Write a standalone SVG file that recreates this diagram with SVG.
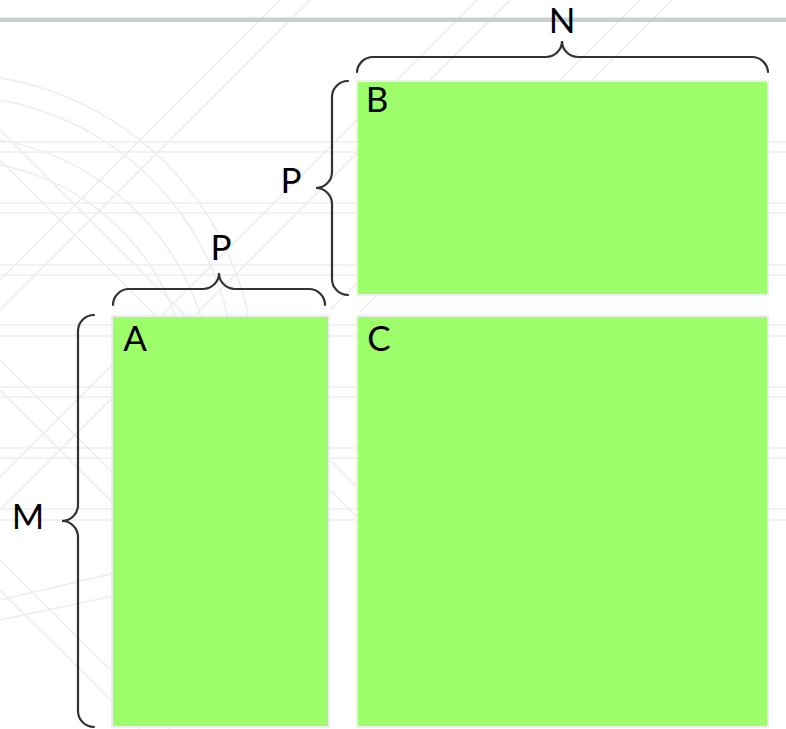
<svg xmlns="http://www.w3.org/2000/svg" width="786" height="729" viewBox="0 0 786 729">
  <style>
    .wm { fill: none; stroke: #eeeeee; stroke-width: 1.6; }
    .mat { fill: #9dfd6b; stroke: #eeeeee; stroke-width: 2; }
    .brace { fill: none; stroke: #333333; stroke-width: 2.2; stroke-linecap: round; }
    .lbl { font-family: Lato, "Open Sans", "Liberation Sans", sans-serif; font-size: 35px; fill: #000000; text-anchor: middle; }
  </style>
  <rect x="0" y="0" width="786" height="729" fill="#ffffff"/>

  <!-- faint background watermark -->
  <g id="watermark">
    <path class="wm" d="M0,142H786M0,152H786M0,203H786M0,213H786M0,265H786M0,275H786M0,325H786M0,336H786M0,387H786M0,397H786M0,448H786M0,458H786M0,509H786M0,520H786"/>
    <path class="wm" d="M280,0L0,280M310,0L0,310M477,0L0,477M510,0L0,510M640,0L330,310M672,0L360,312"/>
    <path class="wm" d="M0,130L360,490M0,160L360,520M0,360L330,690M0,390L320,710M0,560L170,729M0,590L140,729"/>
    <path class="wm" d="M0,78A305,305 0 0 1 255,380M0,100A285,285 0 0 1 235,380M0,140A260,260 0 0 1 205,330M0,165A235,235 0 0 1 180,330"/>
    <path class="wm" d="M0,600L170,560L190,520M0,620L190,580"/>
  </g>

  <!-- top rule -->
  <rect x="0" y="17.5" width="786" height="4.5" fill="#c9cfce"/>

  <!-- matrices -->
  <g id="matB">
    <rect class="mat" x="357" y="81" width="411" height="214"/>
    <text class="lbl" x="377" y="112">B</text>
  </g>
  <g id="matA">
    <rect class="mat" x="112" y="316" width="217" height="411"/>
    <text class="lbl" x="135" y="351">A</text>
  </g>
  <g id="matC">
    <rect class="mat" x="357" y="316" width="411" height="411"/>
    <text class="lbl" x="379" y="351">C</text>
  </g>

  <!-- dimension braces -->
  <g id="braces">
    <path class="brace" d="M357,72A16,16 0 0 1 373,57L546,57A16,16 0 0 0 562,41A16,16 0 0 0 578,57L752,57A16,16 0 0 1 768,72"/>
    <path class="brace" d="M348,81A16,16 0 0 0 332,97L332,172A16,16 0 0 1 316,188A16,16 0 0 1 332,204L332,279A16,16 0 0 0 348,295"/>
    <path class="brace" d="M113,305A16,16 0 0 1 129,289L203,289A16,16 0 0 0 219,273A16,16 0 0 0 235,289L309,289A16,16 0 0 1 325,305"/>
    <path class="brace" d="M94,315A16,16 0 0 0 78,331L78,505A16,16 0 0 1 62,521A16,16 0 0 1 78,537L78,711A16,16 0 0 0 94,727"/>
  </g>

  <g id="labels">
    <text class="lbl" x="562" y="33">N</text>
    <text class="lbl" x="291" y="193">P</text>
    <text class="lbl" x="221" y="260">P</text>
    <text class="lbl" x="28" y="529">M</text>
  </g>
</svg>
